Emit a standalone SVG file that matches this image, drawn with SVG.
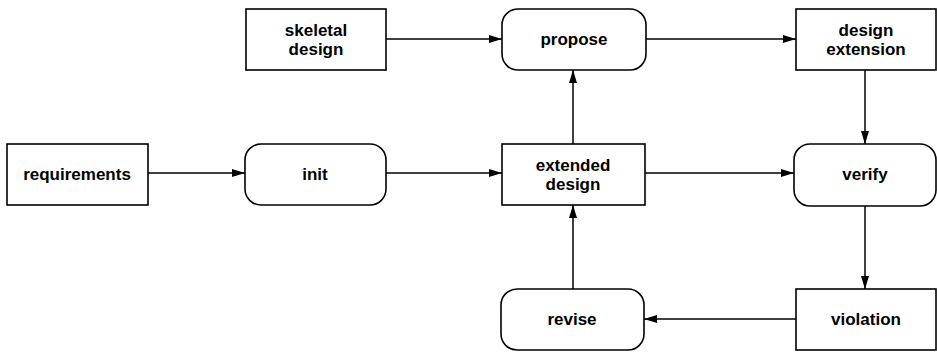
<svg xmlns="http://www.w3.org/2000/svg" width="937" height="352" viewBox="0 0 937 352">
  <style>
    .box { fill: #fff; stroke: #000; stroke-width: 1.6; }
    .lbl { font-family: "Liberation Sans", Arial, sans-serif; font-weight: bold; font-size: 17px; fill: #000; text-anchor: middle; }
    .edge { fill: none; stroke: #000; stroke-width: 1.5; marker-end: url(#arrow); }
  </style>
  <defs>
    <marker id="arrow" viewBox="0 0 13 8" refX="13" refY="4" markerWidth="13" markerHeight="8" markerUnits="userSpaceOnUse" orient="auto">
      <path d="M0,0 L13,4 L0,8 Z" fill="#000"/>
    </marker>
  </defs>
  <rect width="937" height="352" fill="#fff"/>

  <g id="connectors">
    <line class="edge" x1="386" y1="39" x2="502" y2="39"/>
    <line class="edge" x1="646" y1="39" x2="796" y2="39"/>
    <line class="edge" x1="148" y1="173" x2="245" y2="173"/>
    <line class="edge" x1="386" y1="173" x2="502" y2="173"/>
    <line class="edge" x1="645" y1="173" x2="794" y2="173"/>
    <line class="edge" x1="573" y1="144" x2="573" y2="70"/>
    <line class="edge" x1="865" y1="70" x2="865" y2="144"/>
    <line class="edge" x1="865" y1="206" x2="865" y2="289"/>
    <line class="edge" x1="796" y1="319" x2="644" y2="319"/>
    <line class="edge" x1="573" y1="289" x2="573" y2="205"/>
  </g>

  <g id="skeletal-design">
    <rect class="box" x="246" y="9" width="140" height="61"/>
    <text class="lbl" x="316" y="36">skeletal</text>
    <text class="lbl" x="316" y="55">design</text>
  </g>

  <g id="propose">
    <rect class="box" x="502" y="9" width="144" height="61" rx="16" ry="16"/>
    <text class="lbl" x="574" y="45">propose</text>
  </g>

  <g id="design-extension">
    <rect class="box" x="796" y="9" width="140" height="61"/>
    <text class="lbl" x="866" y="36">design</text>
    <text class="lbl" x="866" y="55">extension</text>
  </g>

  <g id="requirements">
    <rect class="box" x="7" y="144" width="141" height="61"/>
    <text class="lbl" x="77" y="180">requirements</text>
  </g>

  <g id="init">
    <rect class="box" x="245" y="144" width="141" height="61" rx="16" ry="16"/>
    <text class="lbl" x="315" y="180">init</text>
  </g>

  <g id="extended-design">
    <rect class="box" x="502" y="144" width="143" height="61"/>
    <text class="lbl" x="573" y="171">extended</text>
    <text class="lbl" x="573" y="190">design</text>
  </g>

  <g id="verify">
    <rect class="box" x="794" y="144" width="142" height="62" rx="16" ry="16"/>
    <text class="lbl" x="865" y="180">verify</text>
  </g>

  <g id="revise">
    <rect class="box" x="501" y="289" width="143" height="61" rx="16" ry="16"/>
    <text class="lbl" x="572" y="325">revise</text>
  </g>

  <g id="violation">
    <rect class="box" x="796" y="289" width="140" height="61"/>
    <text class="lbl" x="866" y="325">violation</text>
  </g>
</svg>
